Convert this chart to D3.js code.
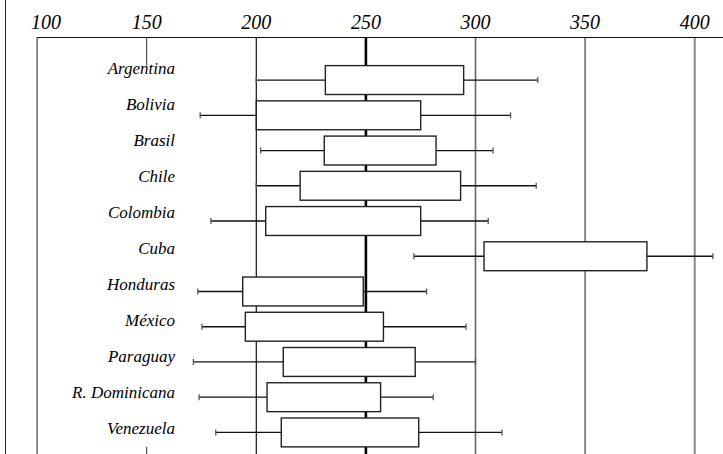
<!DOCTYPE html>
<html>
<head>
<meta charset="utf-8">
<script src="https://cdn.jsdelivr.net/npm/d3@7"></script>
<style>
html,body{margin:0;padding:0;background:#fff;}
svg{display:block;}
</style>
</head>
<body>
<svg id="chart" width="723" height="454"></svg>
<script>
const categories = ["Argentina","Bolivia","Brasil","Chile","Colombia","Cuba","Honduras","México","Paraguay","R. Dominicana","Venezuela"];
const whiskerLow  = [200, 174.4, 202, 200, 179.3, 271.9, 173.3, 175.2, 171.3, 173.9, 181.5];
const q1          = [231.5, 200, 231, 220, 204.3, 303.9, 193.8, 195, 212.3, 204.9, 211.4];
const q3          = [294.6, 275, 282, 293.2, 275, 378.2, 248.8, 258, 272.5, 256.7, 274.1];
const whiskerHigh = [328.4, 316, 308, 327.7, 305.8, 408.3, 277.7, 295.7, 300, 280.7, 312.1];
const tickValues  = [100, 150, 200, 250, 300, 350, 400];
const tickLabels  = ["100", "150", "200", "250", "300", "350", "400"];

const W = 723, H = 454;
const FONT = "'Liberation Serif', 'Times New Roman', Times, serif";
const svg = d3.select("#chart");

const x = d3.scaleLinear().domain([100, 400]).range([37.1, 694.7]);
const y = d3.scaleBand().domain(categories).range([63.5, 449]).paddingInner(0.18).paddingOuter(0.06);
const yLabel = d3.scalePoint().domain(categories).range([74, 434]);

const axisTop = 37;

const data = categories.map((c, i) => ({c, lo: whiskerLow[i], q1: q1[i], q3: q3[i], hi: whiskerHigh[i]}));

// left frame line
svg.append("line").attr("x1", 5.5).attr("x2", 5.5).attr("y1", 0).attr("y2", H)
  .attr("stroke", "#222").attr("stroke-width", 1);

// gridlines
const gridStyle = {
  100: {c: "#222", w: 1},
  150: {c: "#333", w: 1},
  200: {c: "#111", w: 1.2},
  250: {c: "#000", w: 2.6},
  300: {c: "#666", w: 1.6},
  350: {c: "#888", w: 2},
  400: {c: "#888", w: 2}
};
const firstTop = y(categories[0]);
const lastBottom = y(categories[categories.length - 1]) + y.bandwidth();
tickValues.forEach(v => {
  const s = gridStyle[v];
  if (v === 150) {
    svg.append("line").attr("x1", x(v)).attr("x2", x(v)).attr("y1", axisTop).attr("y2", firstTop)
      .attr("stroke", s.c).attr("stroke-width", s.w);
    svg.append("line").attr("x1", x(v)).attr("x2", x(v)).attr("y1", lastBottom).attr("y2", H)
      .attr("stroke", s.c).attr("stroke-width", s.w);
  } else {
    svg.append("line").attr("x1", x(v)).attr("x2", x(v)).attr("y1", axisTop).attr("y2", H)
      .attr("stroke", s.c).attr("stroke-width", s.w);
  }
});

// top axis line
svg.append("line").attr("x1", x(100)).attr("x2", W).attr("y1", axisTop + 0.5).attr("y2", axisTop + 0.5)
  .attr("stroke", "#111").attr("stroke-width", 1.2);

// tick labels
svg.selectAll("text.tick").data(tickValues).enter().append("text")
  .attr("class", "tick")
  .attr("x", d => x(d) + (d === 100 ? 9 : 0))
  .attr("y", 29)
  .attr("text-anchor", "middle")
  .attr("font-family", FONT)
  .attr("font-style", "italic")
  .attr("font-size", 20)
  .attr("fill", "#000")
  .text((d, i) => tickLabels[i]);

// whiskers
const g = svg.append("g");
const cy = d => y(d.c) + y.bandwidth() / 2;
g.selectAll("line.wl").data(data).enter().append("line")
  .attr("x1", d => x(d.lo)).attr("x2", d => x(d.q1))
  .attr("y1", cy).attr("y2", cy)
  .attr("stroke", "#111").attr("stroke-width", 1.3);
g.selectAll("line.wh").data(data).enter().append("line")
  .attr("x1", d => x(d.q3)).attr("x2", d => x(d.hi))
  .attr("y1", cy).attr("y2", cy)
  .attr("stroke", "#111").attr("stroke-width", 1.3);
// caps
g.selectAll("line.cl").data(data).enter().append("line")
  .attr("x1", d => x(d.lo)).attr("x2", d => x(d.lo))
  .attr("y1", d => cy(d) - 3).attr("y2", d => cy(d) + 3)
  .attr("stroke", "#555").attr("stroke-width", 1.3);
g.selectAll("line.ch").data(data).enter().append("line")
  .attr("x1", d => x(d.hi)).attr("x2", d => x(d.hi))
  .attr("y1", d => cy(d) - 3).attr("y2", d => cy(d) + 3)
  .attr("stroke", "#555").attr("stroke-width", 1.3);

// boxes
g.selectAll("rect.box").data(data).enter().append("rect")
  .attr("x", d => x(d.q1)).attr("width", d => x(d.q3) - x(d.q1))
  .attr("y", d => y(d.c)).attr("height", y.bandwidth())
  .attr("fill", "#fff").attr("stroke", "#222").attr("stroke-width", 1.4);

// country labels
svg.selectAll("text.cat").data(categories).enter().append("text")
  .attr("class", "cat")
  .attr("x", 175)
  .attr("y", d => yLabel(d))
  .attr("text-anchor", "end")
  .attr("font-family", FONT)
  .attr("font-style", "italic")
  .attr("font-size", 17)
  .attr("fill", "#000")
  .text(d => d);
</script>
</body>
</html>
